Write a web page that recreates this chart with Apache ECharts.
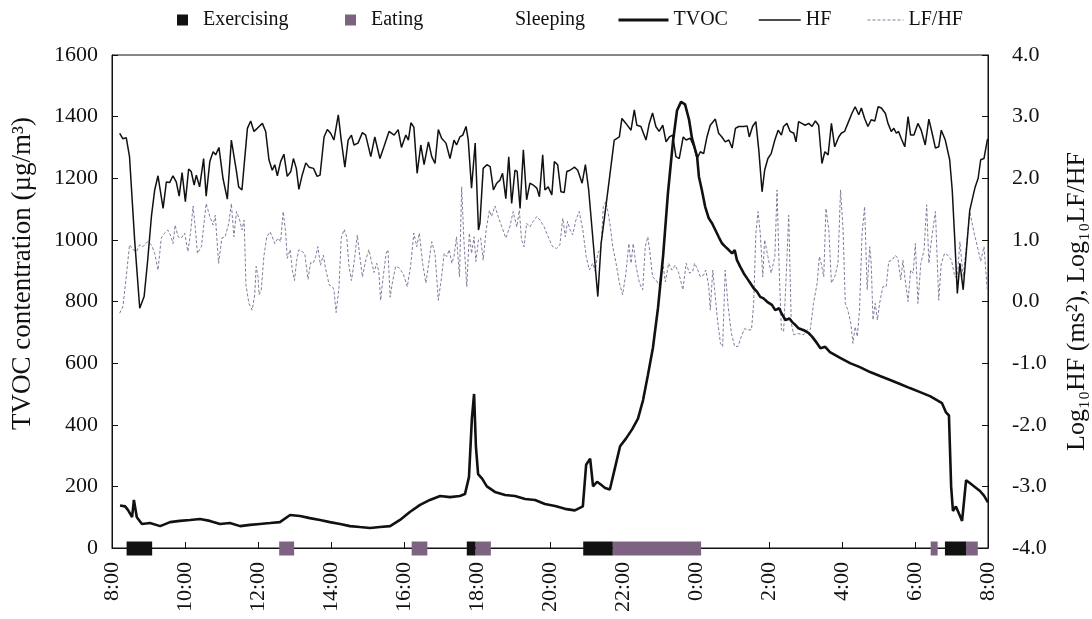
<!DOCTYPE html>
<html>
<head>
<meta charset="utf-8">
<script src="https://cdn.jsdelivr.net/npm/echarts@6/dist/echarts.min.js"></script>
<style>
  html, body { margin: 0; padding: 0; background: #fff; }
  #chart { width: 1092px; height: 619px; }
</style>
</head>
<body>
<div id="chart"></div>
<script>
// Time is counted in hours after 08:00 on the first day (0 .. 24).
const clockLabels = ['8:00', '10:00', '12:00', '14:00', '16:00', '18:00', '20:00',
                     '22:00', '0:00', '2:00', '4:00', '6:00', '8:00'];

// Activity periods: [start, end] in hours after 08:00
const exercising = [[0.40, 1.10], [9.72, 9.96], [12.91, 13.72], [22.82, 23.40]];
const eating = [[4.58, 4.99], [8.21, 8.64], [9.96, 10.38], [13.72, 16.14], [22.43, 22.62], [23.40, 23.72]];
const sleeping = [];

// TVOC concentration, µg/m3
const tvoc = [
  [0.22, 138], [0.36, 135], [0.44, 123], [0.55, 100], [0.60, 156], [0.68, 100], [0.82, 78],
  [1.04, 81], [1.32, 71], [1.59, 84], [1.86, 88], [2.14, 91], [2.41, 94], [2.68, 88],
  [2.96, 78], [3.23, 81], [3.51, 71], [3.78, 75], [4.05, 78], [4.33, 81], [4.60, 84],
  [4.88, 107], [5.15, 104], [5.42, 97], [5.70, 91], [5.97, 84], [6.25, 78], [6.52, 71],
  [6.79, 68], [7.07, 65], [7.34, 68], [7.62, 71], [7.89, 91], [8.16, 117], [8.44, 140],
  [8.71, 156], [8.99, 169], [9.26, 165], [9.53, 169], [9.67, 175], [9.78, 230], [9.86, 420],
  [9.92, 500], [9.97, 330], [10.03, 240], [10.14, 225], [10.27, 200], [10.49, 182],
  [10.77, 172], [11.04, 169], [11.32, 159], [11.59, 156], [11.86, 143], [12.14, 136],
  [12.41, 127], [12.68, 122], [12.90, 135], [12.99, 270], [13.10, 290], [13.18, 200],
  [13.29, 215], [13.40, 205], [13.51, 195], [13.64, 190], [13.78, 260], [13.92, 330],
  [14.08, 355], [14.25, 385], [14.41, 420], [14.55, 480], [14.68, 560], [14.82, 650],
  [14.96, 780], [15.10, 950], [15.23, 1150], [15.37, 1320], [15.48, 1420], [15.59, 1448],
  [15.70, 1440], [15.81, 1390], [15.89, 1330], [16.03, 1270], [16.08, 1205], [16.16, 1162],
  [16.25, 1108], [16.35, 1070], [16.44, 1054], [16.53, 1032], [16.62, 1010], [16.71, 989],
  [16.80, 978], [16.90, 967], [16.99, 956], [17.06, 967], [17.12, 935], [17.21, 913],
  [17.31, 891], [17.40, 875], [17.49, 859], [17.58, 843], [17.67, 832], [17.76, 815],
  [17.85, 810], [17.95, 799], [18.08, 789], [18.17, 772], [18.28, 778], [18.34, 762],
  [18.45, 740], [18.56, 745], [18.63, 734], [18.72, 724], [18.81, 713], [18.95, 707],
  [19.09, 697], [19.18, 686], [19.32, 664], [19.41, 648], [19.54, 653], [19.67, 636],
  [19.95, 617], [20.22, 600], [20.49, 587], [20.77, 571], [21.04, 558], [21.32, 545],
  [21.59, 532], [21.86, 519], [22.14, 506], [22.41, 493], [22.60, 480], [22.74, 470],
  [22.85, 440], [22.93, 430], [22.99, 200], [23.04, 120], [23.12, 135], [23.21, 110],
  [23.29, 88], [23.40, 220], [23.51, 210], [23.64, 198], [23.78, 185], [23.89, 170],
  [24.00, 148]
];

// log10 HF (ms2)
const hf = [
  [0.21, 2.73], [0.30, 2.64], [0.39, 2.66], [0.48, 2.35], [0.62, 1.00], [0.76, -0.11],
  [0.88, 0.08], [0.97, 0.62], [1.08, 1.38], [1.17, 1.81], [1.26, 2.04], [1.40, 1.51],
  [1.49, 1.94], [1.58, 1.93], [1.67, 2.04], [1.76, 1.94], [1.84, 1.71], [1.92, 2.09],
  [2.01, 1.62], [2.10, 2.15], [2.17, 2.11], [2.25, 1.89], [2.31, 2.05], [2.40, 1.86],
  [2.51, 2.32], [2.58, 1.71], [2.68, 2.27], [2.77, 2.43], [2.84, 2.38], [2.93, 2.50],
  [3.04, 2.00], [3.16, 1.66], [3.27, 2.62], [3.41, 2.11], [3.47, 1.86], [3.56, 1.81],
  [3.71, 2.81], [3.80, 2.93], [3.89, 2.76], [3.98, 2.81], [4.12, 2.89], [4.21, 2.76],
  [4.30, 2.30], [4.39, 2.13], [4.46, 2.22], [4.53, 2.04], [4.62, 2.27], [4.71, 2.39],
  [4.80, 2.03], [4.90, 2.11], [4.97, 2.32], [5.05, 2.16], [5.12, 1.82], [5.21, 2.05],
  [5.31, 2.25], [5.40, 2.18], [5.52, 2.16], [5.62, 2.03], [5.70, 2.05], [5.81, 2.67],
  [5.90, 2.79], [5.99, 2.73], [6.08, 2.62], [6.20, 3.03], [6.28, 2.62], [6.38, 2.18],
  [6.47, 2.62], [6.56, 2.70], [6.63, 2.54], [6.74, 2.57], [6.86, 2.74], [6.95, 2.70],
  [7.09, 2.35], [7.20, 2.67], [7.34, 2.32], [7.45, 2.51], [7.59, 2.76], [7.73, 2.70],
  [7.84, 2.79], [7.93, 2.50], [8.05, 2.70], [8.12, 2.62], [8.19, 2.90], [8.27, 2.83],
  [8.36, 2.08], [8.46, 2.54], [8.55, 2.22], [8.67, 2.59], [8.76, 2.35], [8.85, 2.24],
  [8.94, 2.79], [9.03, 2.65], [9.15, 2.57], [9.26, 2.32], [9.37, 2.62], [9.44, 2.54],
  [9.53, 2.67], [9.61, 2.70], [9.70, 2.84], [9.76, 2.62], [9.85, 1.84], [9.95, 2.57],
  [10.04, 1.16], [10.08, 1.27], [10.17, 2.16], [10.27, 2.22], [10.36, 2.19], [10.45, 1.81],
  [10.54, 1.92], [10.63, 1.97], [10.70, 2.08], [10.79, 1.67], [10.87, 2.35], [10.95, 1.59],
  [11.04, 2.13], [11.10, 2.11], [11.18, 1.51], [11.27, 2.46], [11.36, 1.65], [11.45, 1.92],
  [11.54, 1.89], [11.64, 1.84], [11.71, 1.70], [11.80, 2.38], [11.86, 1.81], [11.95, 1.86],
  [12.05, 1.73], [12.12, 2.27], [12.21, 2.22], [12.30, 1.78], [12.39, 1.77], [12.46, 2.11],
  [12.55, 2.13], [12.67, 2.18], [12.76, 2.13], [12.88, 1.92], [12.97, 2.22], [13.06, 1.81],
  [13.17, 1.05], [13.31, 0.08], [13.40, 0.94], [13.52, 1.49], [13.64, 2.05], [13.76, 2.62],
  [13.90, 2.67], [13.97, 2.97], [14.08, 2.89], [14.22, 2.78], [14.31, 3.11], [14.38, 2.86],
  [14.49, 2.84], [14.63, 2.62], [14.72, 2.89], [14.81, 3.06], [14.90, 2.84], [14.99, 2.76],
  [15.09, 2.86], [15.18, 2.59], [15.27, 2.67], [15.36, 2.70], [15.45, 2.35], [15.54, 2.32],
  [15.65, 2.67], [15.73, 2.62], [15.84, 2.65], [15.95, 2.51], [16.03, 2.32], [16.12, 2.43],
  [16.21, 2.40], [16.30, 2.67], [16.39, 2.86], [16.53, 2.96], [16.62, 2.73], [16.71, 2.67],
  [16.80, 2.59], [16.90, 2.62], [16.99, 2.49], [17.08, 2.81], [17.17, 2.84], [17.31, 2.84],
  [17.40, 2.85], [17.46, 2.67], [17.55, 2.84], [17.64, 2.92], [17.72, 2.46], [17.81, 1.78],
  [17.88, 2.13], [17.97, 2.32], [18.06, 2.40], [18.16, 2.62], [18.25, 2.78], [18.34, 2.70],
  [18.40, 2.84], [18.49, 2.89], [18.58, 2.76], [18.68, 2.73], [18.74, 2.59], [18.81, 2.92],
  [18.90, 2.89], [18.99, 2.86], [19.09, 2.89], [19.18, 2.84], [19.27, 2.93], [19.36, 2.86],
  [19.45, 2.24], [19.53, 2.43], [19.62, 2.38], [19.71, 2.89], [19.80, 2.51], [19.91, 2.67],
  [19.98, 2.73], [20.07, 2.76], [20.16, 2.89], [20.27, 3.05], [20.36, 3.16], [20.46, 3.03],
  [20.53, 3.14], [20.62, 2.97], [20.71, 2.84], [20.80, 2.95], [20.90, 2.93], [20.99, 3.16],
  [21.08, 3.14], [21.19, 3.05], [21.26, 2.89], [21.35, 2.76], [21.42, 2.81], [21.49, 2.73],
  [21.55, 2.76], [21.62, 2.65], [21.72, 2.51], [21.81, 3.00], [21.88, 2.70], [21.97, 2.70],
  [22.08, 2.89], [22.17, 2.78], [22.28, 2.54], [22.38, 2.96], [22.47, 2.73], [22.56, 2.49],
  [22.65, 2.51], [22.72, 2.78], [22.83, 2.62], [22.95, 2.30], [23.02, 1.81], [23.09, 1.00],
  [23.16, 0.13], [23.23, 0.62], [23.32, 0.19], [23.41, 0.84], [23.50, 1.48], [23.64, 1.84],
  [23.73, 2.00], [23.80, 2.30], [23.89, 2.32], [23.98, 2.62], [24.00, 2.64]
];

// log10 LF/HF
const lfhf = [
  [0.21, -0.19], [0.30, -0.08], [0.39, 0.40], [0.48, 0.92], [0.58, 0.84], [0.67, 0.81],
  [0.76, 0.92], [0.85, 0.89], [0.97, 0.97], [1.08, 0.92], [1.17, 0.78], [1.26, 0.51],
  [1.35, 1.03], [1.44, 1.11], [1.53, 1.16], [1.62, 1.05], [1.67, 0.94], [1.73, 1.24],
  [1.81, 1.05], [1.90, 1.03], [1.99, 1.11], [2.08, 0.81], [2.16, 1.16], [2.22, 1.55],
  [2.28, 1.21], [2.34, 0.78], [2.45, 0.89], [2.58, 1.59], [2.68, 1.38], [2.77, 1.24],
  [2.83, 1.40], [2.92, 0.62], [3.01, 1.03], [3.10, 1.05], [3.20, 1.27], [3.27, 1.59],
  [3.34, 1.05], [3.41, 1.46], [3.50, 1.32], [3.56, 1.16], [3.62, 1.32], [3.67, 0.27],
  [3.75, -0.03], [3.84, -0.14], [3.91, 0.11], [3.95, 0.57], [4.00, 0.40], [4.03, 0.11],
  [4.09, 0.19], [4.16, 0.73], [4.24, 1.05], [4.33, 1.13], [4.39, 1.05], [4.46, 0.94],
  [4.55, 1.03], [4.62, 0.97], [4.69, 1.46], [4.76, 1.11], [4.80, 0.70], [4.88, 0.84],
  [4.94, 0.51], [5.00, 0.34], [5.06, 0.67], [5.12, 0.84], [5.21, 0.81], [5.28, 0.78],
  [5.37, 0.36], [5.44, 0.63], [5.51, 0.62], [5.58, 0.73], [5.64, 0.89], [5.71, 0.59],
  [5.79, 0.75], [5.85, 0.54], [5.95, 0.27], [6.04, 0.24], [6.08, 0.19], [6.14, -0.18],
  [6.22, 0.24], [6.28, 1.03], [6.36, 1.17], [6.43, 1.05], [6.49, 0.59], [6.56, 0.34],
  [6.63, 0.62], [6.72, 1.08], [6.79, 0.73], [6.86, 0.40], [6.95, 0.67], [7.04, 0.84],
  [7.10, 0.67], [7.18, 0.47], [7.25, 0.62], [7.31, 0.49], [7.36, 0.02], [7.43, 0.40],
  [7.51, 0.78], [7.56, 0.84], [7.62, 0.07], [7.68, 0.30], [7.77, 0.57], [7.86, 0.55],
  [7.98, 0.45], [8.09, 0.24], [8.18, 0.57], [8.27, 1.11], [8.35, 0.89], [8.42, 1.11],
  [8.51, 0.62], [8.60, 0.30], [8.69, 0.67], [8.76, 0.97], [8.85, 0.78], [8.94, 0.02],
  [9.03, 0.40], [9.10, 0.78], [9.17, 0.73], [9.24, 0.84], [9.31, 0.62], [9.37, 0.73],
  [9.44, 1.05], [9.52, 0.40], [9.58, 1.86], [9.64, 1.00], [9.72, 0.24], [9.79, 1.11],
  [9.85, 0.78], [9.92, 1.05], [9.97, 0.65], [10.04, 1.00], [10.10, 1.03], [10.17, 0.67],
  [10.25, 1.16], [10.34, 1.48], [10.40, 1.38], [10.49, 1.55], [10.58, 1.38], [10.68, 1.21],
  [10.79, 1.03], [10.90, 1.21], [10.99, 1.46], [11.09, 1.21], [11.16, 1.48], [11.22, 1.00],
  [11.29, 0.89], [11.36, 1.27], [11.45, 1.21], [11.54, 1.30], [11.64, 1.38], [11.73, 1.32],
  [11.84, 1.21], [11.95, 1.05], [12.07, 0.89], [12.18, 0.86], [12.27, 0.92], [12.35, 1.35],
  [12.42, 1.05], [12.48, 1.30], [12.55, 1.16], [12.62, 1.08], [12.71, 1.32], [12.80, 1.46],
  [12.90, 1.16], [12.99, 0.73], [13.08, 0.51], [13.17, 0.62], [13.24, 0.49], [13.31, 0.78],
  [13.40, 0.89], [13.46, 1.54], [13.53, 1.62], [13.58, 1.48], [13.64, 1.27], [13.72, 0.89],
  [13.81, 0.62], [13.90, 0.30], [13.99, 0.11], [14.08, 0.46], [14.16, 0.94], [14.22, 0.62],
  [14.28, 0.94], [14.36, 0.57], [14.45, 0.30], [14.54, 0.19], [14.61, 0.89], [14.68, 1.05],
  [14.74, 0.78], [14.81, 0.40], [14.90, 0.35], [14.99, 0.27], [15.09, 0.62], [15.16, 0.32],
  [15.25, 0.62], [15.34, 0.51], [15.43, 0.59], [15.53, 0.46], [15.64, 0.19], [15.73, 0.62],
  [15.82, 0.46], [15.91, 0.49], [15.96, 0.62], [16.03, 0.54], [16.12, 0.40], [16.21, 0.43],
  [16.27, 0.51], [16.35, 0.24], [16.39, -0.14], [16.46, 0.51], [16.51, 0.19], [16.58, -0.25],
  [16.67, -0.68], [16.73, -0.73], [16.80, 0.51], [16.88, -0.08], [16.97, -0.52], [17.06, -0.73],
  [17.15, -0.73], [17.24, -0.57], [17.33, -0.44], [17.42, -0.46], [17.52, -0.46], [17.58, -0.03],
  [17.64, 1.11], [17.70, 1.46], [17.76, 1.11], [17.83, 0.40], [17.88, 1.00], [17.97, 0.73],
  [18.06, 0.46], [18.16, 0.73], [18.22, 1.81], [18.28, 0.51], [18.34, -0.46], [18.40, -0.49],
  [18.47, 0.40], [18.54, 1.40], [18.61, -0.35], [18.68, -0.54], [18.79, -0.52], [18.95, -0.54],
  [19.04, -0.46], [19.13, -0.46], [19.22, -0.03], [19.32, 0.30], [19.38, 0.73], [19.43, 0.62],
  [19.50, 0.40], [19.56, 1.51], [19.64, 1.16], [19.71, 0.30], [19.80, 0.40], [19.89, 0.62],
  [19.96, 1.81], [20.03, 1.16], [20.09, -0.03], [20.16, -0.14], [20.24, -0.35], [20.30, -0.68],
  [20.36, -0.41], [20.42, -0.57], [20.48, -0.14], [20.55, 1.11], [20.62, 1.54], [20.69, 0.19],
  [20.76, 0.89], [20.80, 0.62], [20.85, -0.30], [20.91, -0.03], [20.97, -0.30], [21.03, -0.03],
  [21.12, 0.24], [21.21, 0.24], [21.28, 0.65], [21.37, 0.67], [21.46, 0.75], [21.53, 0.70],
  [21.61, 0.35], [21.67, 0.67], [21.73, 0.35], [21.81, 0.00], [21.88, 0.51], [21.95, 0.46],
  [22.01, 0.94], [22.08, -0.03], [22.16, 0.62], [22.25, 0.84], [22.32, 1.57], [22.38, 0.62],
  [22.45, 1.00], [22.56, 1.46], [22.65, 0.02], [22.72, 0.62], [22.81, 0.78], [22.90, 0.75],
  [23.00, 0.67], [23.09, 0.40], [23.16, 0.40], [23.23, 0.97], [23.32, 0.40], [23.41, 0.89],
  [23.50, 1.46], [23.62, 1.11], [23.73, 0.84], [23.80, 0.65], [23.89, 0.89], [23.98, 0.19]
];

const FONT = "'Liberation Serif', 'Times New Roman', 'DejaVu Serif', serif";
const INK = '#111';
const PURPLE = '#7e6282';
const DASH_PURPLE = '#857a9e';

const chart = echarts.init(document.getElementById('chart'), null, { renderer: 'canvas' });

// Activity periods are drawn as short bands sitting on the time axis.
function bandRenderer(params, api) {
  const a = api.coord([api.value(0), 0]);
  const b = api.coord([api.value(1), 0]);
  const h = 14;
  return {
    type: 'rect',
    shape: { x: a[0], y: a[1] - h / 2 + 0.5, width: b[0] - a[0], height: h },
    style: api.style()
  };
}

const textBase = { fontFamily: FONT, color: INK };

function legendItem(name, left, square, lineWidth, strokeWidth) {
  const item = {
    data: [square ? { name: name, icon: 'rect' } : name],
    left: left,
    top: 5,
    itemWidth: square ? 11 : lineWidth,
    itemHeight: square ? 11 : 14,
    selectedMode: false,
    textStyle: Object.assign({ fontSize: 20, padding: [0, 0, 0, square ? 10 : 0] }, textBase)
  };
  // line entries show only the stroke, no marker dot
  if (!square) {
    item.itemStyle = { opacity: 0 };
    item.lineStyle = { width: strokeWidth };
  }
  return item;
}

chart.setOption({
  animation: false,
  backgroundColor: '#fff',
  grid: {
    left: 112, right: 104, top: 55, bottom: 71,
    outerBoundsMode: 'none', containLabel: false,
    show: true, borderColor: INK, borderWidth: 1, backgroundColor: 'transparent'
  },
  legend: [
    legendItem('Exercising', 172, true),
    legendItem('Eating', 340, true),
    legendItem('Sleeping', 484, true),
    legendItem('TVOC', 612, false, 50, 3),
    legendItem('HF', 753, false, 42, 1.5),
    legendItem('LF/HF', 862, false, 36, 1)
  ],
  xAxis: {
    type: 'value', min: 0, max: 24, interval: 2,
    axisLine: { show: true, lineStyle: { color: INK, width: 1 } },
    axisTick: { show: true, inside: true, length: 6, lineStyle: { color: INK } },
    splitLine: { show: false },
    axisLabel: Object.assign({
      rotate: 90, margin: 14, fontSize: 22,
      formatter: v => clockLabels[Math.round(v / 2)]
    }, textBase)
  },
  yAxis: [
    {
      type: 'value', min: 0, max: 1600, interval: 200, position: 'left',
      name: 'TVOC contentration (µg/m³)',
      nameLocation: 'middle', nameRotate: 90, nameGap: 76,
      // a little extra room on the leading side lifts the title toward the top
      nameTextStyle: Object.assign({ fontSize: 27, padding: [0, 0, 0, 56] }, textBase),
      axisLine: { show: true, lineStyle: { color: INK, width: 1 } },
      axisTick: { show: true, inside: true, length: 6, lineStyle: { color: INK } },
      splitLine: { show: false },
      axisLabel: Object.assign({ fontSize: 22, margin: 14, formatter: v => String(v) }, textBase)
    },
    {
      type: 'value', min: -4, max: 4, interval: 1, position: 'right',
      name: 'Log₁₀HF (ms²), Log₁₀LF/HF',
      nameLocation: 'middle', nameRotate: 90, nameGap: 76,
      nameTextStyle: Object.assign({ fontSize: 26 }, textBase),
      axisLine: { show: true, lineStyle: { color: INK, width: 1 } },
      axisTick: { show: true, inside: true, length: 6, lineStyle: { color: INK } },
      splitLine: { show: false },
      axisLabel: Object.assign({ fontSize: 22, margin: 24, formatter: v => v.toFixed(1) }, textBase)
    }
  ],
  series: [
    {
      name: 'LF/HF', type: 'line', yAxisIndex: 1, data: lfhf,
      symbol: 'none', z: 2,
      lineStyle: { color: DASH_PURPLE, width: 1, type: [3, 2] },
      itemStyle: { color: DASH_PURPLE }
    },
    {
      name: 'HF', type: 'line', yAxisIndex: 1, data: hf,
      symbol: 'none', z: 3,
      lineStyle: { color: INK, width: 1.5 },
      itemStyle: { color: INK }
    },
    {
      name: 'TVOC', type: 'line', yAxisIndex: 0, data: tvoc,
      symbol: 'none', z: 4,
      lineStyle: { color: INK, width: 2.6 },
      itemStyle: { color: INK }
    },
    {
      name: 'Eating', type: 'custom', yAxisIndex: 0, data: eating,
      encode: { x: [0, 1] }, renderItem: bandRenderer, z: 5, clip: false,
      itemStyle: { color: PURPLE }
    },
    {
      name: 'Exercising', type: 'custom', yAxisIndex: 0, data: exercising,
      encode: { x: [0, 1] }, renderItem: bandRenderer, z: 6, clip: false,
      itemStyle: { color: INK }
    },
    {
      name: 'Sleeping', type: 'custom', yAxisIndex: 0, data: sleeping,
      encode: { x: [0, 1] }, renderItem: bandRenderer, z: 5, clip: false,
      itemStyle: { color: '#ffffff' }
    }
  ]
});
</script>
</body>
</html>
